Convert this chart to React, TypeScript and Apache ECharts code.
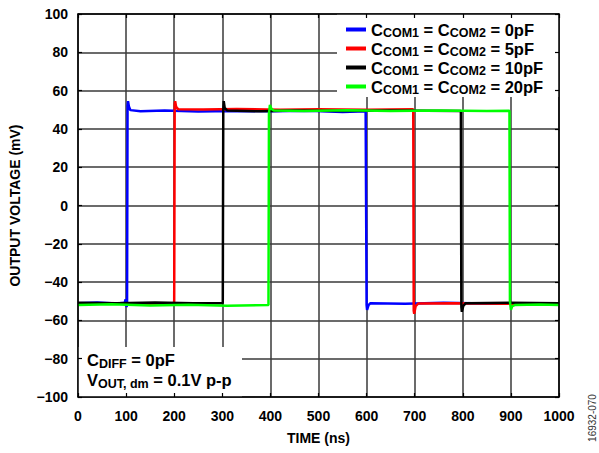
import React, { useEffect, useRef } from "react";
import * as echarts from "echarts";

const xTicks = [0, 100, 200, 300, 400, 500, 600, 700, 800, 900, 1000];
const yTicks = [-100, -80, -60, -40, -20, 0, 20, 40, 60, 80, 100];
const capValues = ["0pF", "5pF", "10pF", "20pF"];
const colors = ["#0000ff", "#ff0000", "#000000", "#00ff00"];

const blue: [number, number][] = [
  [0, -51], [40, -50.6], [80, -51.2], [97, -50.8], [99, -49], [101, -53], [102, -51],
  [103, 52], [104, 54.5], [106, 51.5], [109, 49.8], [130, 49.2], [180, 49.6], [250, 49.1],
  [320, 49.4], [400, 49.2], [480, 49.5], [550, 48.8], [598, 49.2], [600, -52],
  [601, -54.5], [604, -52], [608, -51], [680, -51.3], [760, -50.8], [850, -51.2], [1000, -51],
];
const red: [number, number][] = [
  [0, -51.2], [60, -51], [120, -51.4], [199, -51], [200, -50], [201, 53], [202, 54.5],
  [204, 51.5], [208, 50.3], [260, 50.1], [330, 50.4], [420, 50], [500, 50.2],
  [600, 50], [697, 50.2], [698, -55], [699, -56.5], [702, -52.5], [707, -51.2],
  [780, -51], [880, -51.3], [1000, -51],
];
const black: [number, number][] = [
  [0, -50.8], [80, -51], [160, -50.6], [240, -51], [301, -51], [302, 50], [303, 54.5],
  [305, 51], [310, 49.6], [380, 49.2], [450, 49.6], [550, 49.3], [650, 49.6],
  [796, 49.4], [797, -53], [798, -55.5], [801, -52.5], [806, -51], [900, -50.8], [1000, -51],
];
const green: [number, number][] = [
  [0, -52], [70, -51.6], [150, -52.2], [230, -51.8], [310, -52.3], [396, -52],
  [397, 48], [399, 52.5], [402, 50.5], [407, 49.6], [470, 49.4], [560, 49.7],
  [650, 49.4], [750, 49.6], [850, 49.4], [897, 49.5], [898, -50], [900, -54.5],
  [903, -52.5], [908, -52], [960, -51.7], [1000, -52],
];
const seriesData = [blue, red, black, green];

const FONT = "Liberation Sans, Arial, sans-serif";

export default function App() {
  const ref = useRef<HTMLDivElement>(null);
  useEffect(() => {
    if (!ref.current) return;
    const chart = echarts.init(ref.current, undefined, { renderer: "svg" });
    const names = capValues.map((v) => `C_COM1 = C_COM2 = ${v}`);
    const fmtY = (v: number) => (v < 0 ? "\u2212" + Math.abs(v) : String(v));
    const grid = { left: 78, right: 40, top: 14, bottom: 56 };
    const tickAxisCommon = {
      type: "value" as const,
      min: xTicks[0],
      max: xTicks[xTicks.length - 1],
      interval: 100,
      z: 6,
      axisLabel: { show: false },
      splitLine: { show: false },
      axisLine: { show: true, onZero: false, lineStyle: { color: "#000", width: 1.5 } },
      axisTick: { show: true, inside: true, length: 4, lineStyle: { color: "#000", width: 1.2 } },
    };
    const yTickAxisCommon = {
      type: "value" as const,
      min: yTicks[0],
      max: yTicks[yTicks.length - 1],
      interval: 20,
      z: 6,
      axisLabel: { show: false },
      splitLine: { show: false },
      axisLine: { show: true, onZero: false, lineStyle: { color: "#000", width: 1.5 } },
      axisTick: { show: true, inside: true, length: 4, lineStyle: { color: "#000", width: 1.2 } },
    };
    chart.setOption({
      animation: false,
      backgroundColor: "#fff",
      grid,
      xAxis: [
        {
          type: "value",
          min: xTicks[0],
          max: xTicks[xTicks.length - 1],
          interval: 100,
          position: "bottom",
          z: 0,
          name: "TIME (ns)",
          nameLocation: "middle",
          nameGap: 34,
          nameTextStyle: { fontFamily: FONT, fontWeight: "bold", fontSize: 14, color: "#000" },
          axisLine: { show: false, onZero: false },
          axisTick: { show: false },
          axisLabel: { fontFamily: FONT, fontWeight: "bold", fontSize: 14, color: "#000", margin: 12, formatter: (v: number) => String(v) },
          splitLine: { show: true, lineStyle: { color: "#3a3a3a", width: 1.5 } },
        },
        { ...tickAxisCommon, position: "bottom" },
        { ...tickAxisCommon, position: "top" },
      ],
      yAxis: [
        {
          type: "value",
          min: yTicks[0],
          max: yTicks[yTicks.length - 1],
          interval: 20,
          position: "left",
          z: 0,
          name: "OUTPUT VOLTAGE (mV)",
          nameLocation: "middle",
          nameGap: 56,
          nameTextStyle: { fontFamily: FONT, fontWeight: "bold", fontSize: 14, color: "#000" },
          axisLine: { show: false, onZero: false },
          axisTick: { show: false },
          axisLabel: { fontFamily: FONT, fontWeight: "bold", fontSize: 14, color: "#000", margin: 10, formatter: fmtY },
          splitLine: { show: true, lineStyle: { color: "#3a3a3a", width: 1.5 } },
        },
        { ...yTickAxisCommon, position: "left" },
        { ...yTickAxisCommon, position: "right" },
      ],
      legend: {
        data: names,
        orient: "vertical",
        left: 341,
        top: 15,
        itemGap: 0,
        itemWidth: 20,
        itemHeight: 4,
        icon: "rect",
        z: 5,
        formatter: (name: string) => {
          const v = name.split("= ").pop();
          return `{m|C}{s|COM1}{m| = C}{s|COM2}{m| = ${v}}`;
        },
        textStyle: {
          fontFamily: FONT,
          fontWeight: "bold",
          color: "#000",
          rich: {
            m: { fontFamily: FONT, fontWeight: "bold", fontSize: 16.5, color: "#000", lineHeight: 17 },
            s: { fontFamily: FONT, fontWeight: "bold", fontSize: 12.5, color: "#000", padding: [6, 0, 0, 0], lineHeight: 11 },
          },
        },
      },
      graphic: [
        { type: "rect", z: 1, shape: { x: 337, y: 14, width: 222, height: 83 }, style: { fill: "#fff" } },
        { type: "rect", z: 1, shape: { x: 78, y: 347, width: 164, height: 50 }, style: { fill: "#fff" } },
        {
          type: "text",
          z: 3,
          left: 87,
          top: 349,
          style: {
            text: "{m|C}{s|DIFF}{m| = 0pF}\n{m|V}{s|OUT, dm}{m| = 0.1V p-p}",
            fontFamily: FONT,
            fontWeight: "bold",
            fill: "#000",
            rich: {
              m: { fontFamily: FONT, fontWeight: "bold", fontSize: 16.5, fill: "#000", lineHeight: 20 },
              s: { fontFamily: FONT, fontWeight: "bold", fontSize: 12.5, fill: "#000", padding: [8, 0, 0, 0], lineHeight: 12 },
            },
          },
        },
        {
          type: "text",
          z: 3,
          x: 592,
          y: 418,
          rotation: Math.PI / 2,
          style: { text: "16932-070", fontFamily: FONT, fontSize: 10, fill: "#333", align: "center", verticalAlign: "middle" },
        },
      ],
      series: seriesData.map((d, i) => ({
        name: names[i],
        type: "line",
        data: d,
        xAxisIndex: 0,
        yAxisIndex: 0,
        showSymbol: false,
        symbol: "none",
        z: 2 + i,
        lineStyle: { color: colors[i], width: 2.5 },
        itemStyle: { color: colors[i] },
      })),
    });
    return () => chart.dispose();
  }, []);
  return <div ref={ref} style={{ position: "absolute", left: 0, top: 0, width: 599, height: 453 }} />;
}
